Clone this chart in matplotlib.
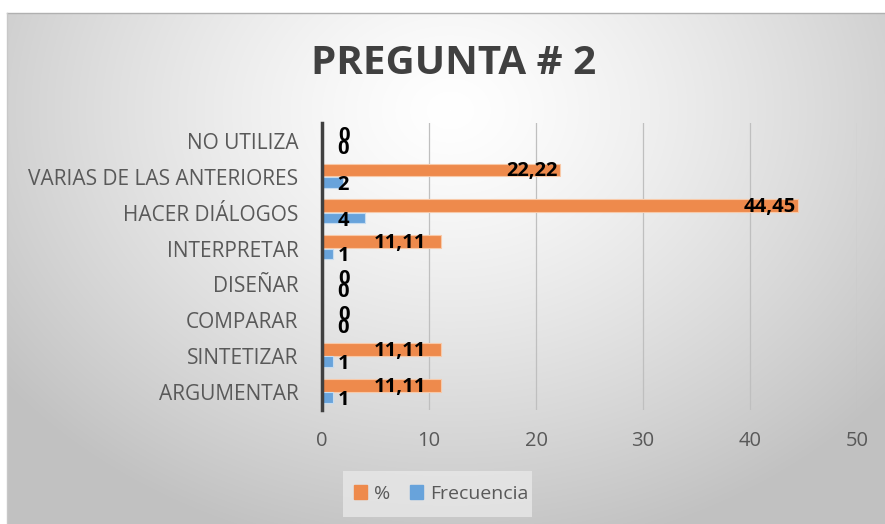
import numpy as np
import matplotlib
matplotlib.use("Agg")
import matplotlib.pyplot as plt
from matplotlib.patches import Rectangle

categorias = ["ARGUMENTAR", "SINTETIZAR", "COMPARAR", "DISEÑAR",
              "INTERPRETAR", "HACER DIÁLOGOS", "VARIAS DE LAS ANTERIORES",
              "NO UTILIZA"]
porcentaje = [11.11, 11.11, 0, 0, 11.11, 44.45, 22.22, 0]
frecuencia = [1, 1, 0, 0, 1, 4, 2, 0]
etiquetas_pct = ["11,11", "11,11", "0", "0", "11,11", "44,45", "22,22", "0"]
ticks_x = [0, 10, 20, 30, 40, 50]

plt.rcParams["font.family"] = ["Open Sans", "DejaVu Sans"]
W, H = 885, 524
fig = plt.figure(figsize=(W / 100, H / 100), dpi=100)

# fondo: degradado radial gris
bg = fig.add_axes([0, 0, 1, 1])
yy, xx = np.mgrid[0:H, 0:W]
d = np.sqrt(((xx - 450) / 1.0) ** 2 + ((yy - 110) / 0.8) ** 2)
g = 1.0 - 0.24 * np.clip(d / 560, 0, 1) ** 1.3
img = np.dstack([g, g, g])
img[:13, :, :] = 1.0
img[:, :7, :] = 1.0
bg.imshow(img, extent=[0, W, H, 0], aspect="auto")
bg.plot([7, W], [13, 13], color="#b0b0b0", lw=1)
bg.plot([7, 7], [13, H], color="#c8c8c8", lw=1)
bg.set_xlim(0, W)
bg.set_ylim(H, 0)
bg.axis("off")

ax = fig.add_axes([322 / W, 1 - 410 / H, 535 / W, 287 / H])
ax.patch.set_alpha(0)
y = np.arange(len(categorias))
naranja = "#ee8a4c"
azul = "#68a3db"
ax.barh(y + 0.19, porcentaje, height=0.36, color=naranja, edgecolor="#f8c9a8", lw=0.8, zorder=3)
ax.barh(y - 0.15, frecuencia, height=0.3, color=azul, edgecolor="#c6dcf0", lw=0.8, zorder=3)

for i in range(len(categorias)):
    if porcentaje[i] > 5:
        xp = porcentaje[i] - (1.4 if porcentaje[i] < 15 else 0.2)
        ha = "right"
    else:
        xp, ha = 2.1, "center"
    ax.text(xp, y[i] + 0.15, etiquetas_pct[i], ha=ha, va="center",
            fontsize=14.5, fontweight="bold", color="black", zorder=5)
    ax.text(2.0, y[i] - 0.22, str(frecuencia[i]), ha="center", va="center",
            fontsize=14.5, fontweight="bold", color="black", zorder=5)

ax.set_xlim(0, 50)
ax.set_ylim(-0.5, 7.5)
ax.set_xticks(ticks_x)
ax.set_xticklabels([str(t) for t in ticks_x])
ax.set_yticks(y)
ax.set_yticklabels(categorias)
ax.tick_params(axis="both", length=0, colors="#595959")
ax.tick_params(axis="x", pad=15, labelsize=14.5)
ax.tick_params(axis="y", pad=17, labelsize=15)
ax.grid(axis="x", color="#bfbfbf", lw=0.9, zorder=0)
for s in ["top", "right", "bottom"]:
    ax.spines[s].set_visible(False)
ax.spines["left"].set_color("#404040")
ax.spines["left"].set_linewidth(2.5)
ax.spines["left"].set_zorder(4)

fig.text(454 / W, 1 - 64 / H, "PREGUNTA # 2", ha="center", va="center",
         fontsize=29, fontweight="bold", color="#404040")

bg.add_patch(Rectangle((343, 471), 189, 46, facecolor="#e8e8e8", edgecolor="none", alpha=0.8))
leg_h = [Rectangle((0, 0), 1, 1, color=naranja), Rectangle((0, 0), 1, 1, color=azul)]
fig.legend(leg_h, ["%", "Frecuencia"], loc="center", bbox_to_anchor=(441 / W, 1 - 494 / H),
           ncol=2, frameon=False, fontsize=14, labelcolor="#595959",
           handlelength=0.7, handleheight=0.7, handletextpad=0.35, columnspacing=1.0)

fig.savefig("out.png", dpi=100)
